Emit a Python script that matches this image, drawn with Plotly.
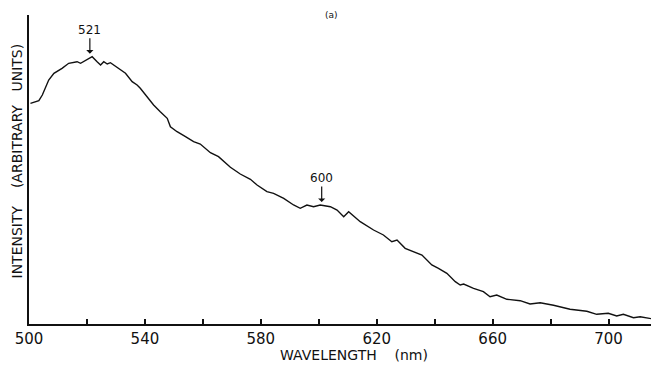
import plotly.graph_objects as go

# Wavelength (nm) and intensity (arbitrary units)
wavelength = [500.5, 503.4, 504.6, 506.8, 508.6, 511.4, 513.7, 516.6, 517.8, 520.1,
              521.8, 523.5, 524.7, 525.8, 527.0, 528.1, 531.0, 533.3, 535.6, 537.3,
              538.4, 540.2, 541.3, 543.0, 545.3, 547.7, 548.8, 551.1, 554.0, 556.8,
              559.1, 560.3, 562.6, 565.4, 566.6, 569.5, 572.9, 576.4,
              578.7, 582.1, 584.4, 587.9, 591.3, 593.6, 595.9, 598.2, 600.5, 604.0,
              606.3, 608.6, 610.3, 613.2,
              614.3, 618.9, 622.3, 625.2, 627.0, 629.8, 632.7, 635.6, 639.0, 641.3,
              644.2, 647.1, 648.8, 650.0,
              653.4, 656.8, 659.1, 661.4, 664.9, 669.5, 672.9, 676.4, 681.0, 686.7,
              692.5, 695.9, 699.9, 702.8, 705.1, 708.6, 710.9, 714.3, 717.4]
intensity = [220.7, 223.3, 229.0, 244.0, 250.7, 255.7, 260.7, 262.3, 260.7, 264.7,
             267.3, 262.3, 259.0, 262.3, 260.0, 261.3, 255.7, 250.7, 242.3, 239.0,
             235.7, 229.0, 225.7, 219.0, 212.3, 205.7, 197.3, 192.3, 187.3, 182.3,
             180.0, 177.3, 171.3, 167.3, 164.0, 156.7, 150.0, 144.7,
             139.0, 132.3, 130.7, 125.7, 119.0, 115.7, 119.0, 117.3, 119.0, 117.3,
             114.0, 107.3, 112.3, 105.7,
             102.3, 94.0, 89.0, 82.3, 84.0, 75.7, 72.3, 69.0, 59.0, 55.7,
             50.7, 42.3, 39.0, 40.0,
             35.7, 32.3, 27.3, 29.0, 24.7, 23.3, 20.0, 21.3, 18.7, 14.7,
             12.7, 9.7, 10.7, 8.0, 9.7, 6.3, 7.3, 5.7, 4.0]

tick_values = [500, 520, 540, 560, 580, 600, 620, 640, 660, 680, 700]
tick_labels = ["500", "", "540", "", "580", "", "620", "", "660", "", "700"]

peak_wavelengths = [521, 601]
peak_intensities = [267.3, 119.0]
peak_labels = ["521", "600"]

x_title = "WAVELENGTH\u00a0\u00a0\u00a0\u00a0(nm)"
y_title = "INTENSITY\u00a0\u00a0\u00a0\u00a0(ARBITRARY\u00a0\u00a0\u00a0UNITS)"

FONT = "DejaVu Sans, Arial, sans-serif"
INK = "#111111"

fig = go.Figure()
fig.add_trace(go.Scatter(x=wavelength, y=intensity, mode="lines",
                         line=dict(color=INK, width=1.4),
                         hoverinfo="skip", showlegend=False))

for px, py, lab in zip(peak_wavelengths, peak_intensities, peak_labels):
    fig.add_annotation(x=px, y=py + 3, xref="x", yref="y", text=lab,
                       showarrow=True, arrowhead=1, arrowsize=1, arrowwidth=1.2,
                       arrowcolor=INK, ax=0, ay=-24,
                       font=dict(family=FONT, size=12, color=INK))

fig.add_annotation(x=0.48, y=1.0 + 7 / 309, xref="paper", yref="paper", text="(a)",
                   showarrow=False, yanchor="top",
                   font=dict(family=FONT, size=9, color=INK))

# axis titles as annotations so they can sit exactly where the reference has them
fig.add_annotation(x=(354 - 29) / 630, y=-31 / 309, xref="paper", yref="paper",
                   text=x_title, showarrow=False, xanchor="center", yanchor="middle",
                   font=dict(family=FONT, size=14, color=INK))
fig.add_annotation(x=(16.5 - 29) / 630, y=(324 - 161) / 309, xref="paper", yref="paper",
                   text=y_title, showarrow=False, textangle=-90,
                   xanchor="center", yanchor="middle",
                   font=dict(family=FONT, size=14, color=INK))

# The page body adds an 8px margin, so the figure is 8px smaller on each side
fig.update_layout(
    width=651, height=358,
    margin=dict(l=21, r=0, t=7, b=42, autoexpand=False),
    paper_bgcolor="white", plot_bgcolor="white",
    font=dict(family=FONT, color=INK),
    xaxis=dict(range=[500, 717.4], tickvals=tick_values, ticktext=tick_labels,
               ticks="inside", ticklen=5, tickwidth=1.5, tickcolor=INK,
               showline=True, linecolor=INK, linewidth=2,
               showgrid=False, zeroline=False, automargin=False,
               tickfont=dict(size=15, family=FONT)),
    yaxis=dict(range=[0, 309], showticklabels=False, ticks="",
               showline=True, linecolor=INK, linewidth=2,
               showgrid=False, zeroline=False, automargin=False),
)

fig.write_html("out.html")
